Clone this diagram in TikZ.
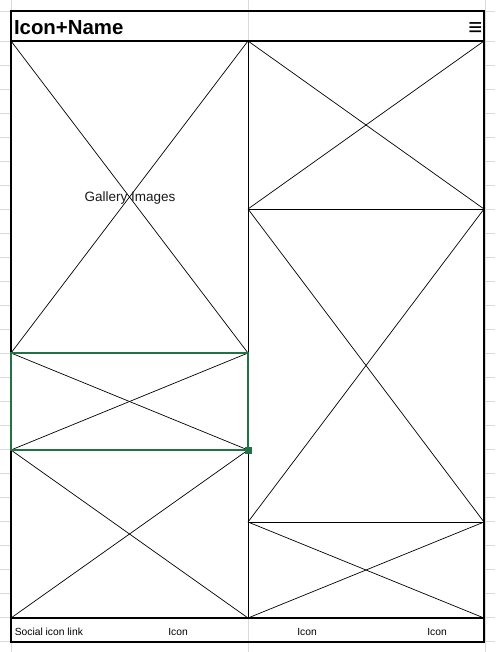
\documentclass[tikz,border=0pt]{standalone}
\usepackage{fontspec}
\setmainfont{Liberation Sans}
\definecolor{gridc}{HTML}{DADADA}
\definecolor{xlgreen}{HTML}{217346}
\definecolor{txt}{HTML}{1A1A1A}
\begin{document}
\begin{tikzpicture}[x=1pt,y=-1pt,
  gridline/.style={draw=gridc,line width=0.8pt},
  ph/.style={draw=black,fill=white,line width=0.7pt,inner sep=0pt,outer sep=0pt,anchor=north west},
  diag/.style={draw=black,line width=0.7pt},
  frame/.style={draw=black,line width=2.6pt},
  sepline/.style={draw=black,line width=1.4pt},
  sel/.style={draw=xlgreen,line width=2pt},
  foot/.style={font=\fontsize{10.3}{12}\selectfont,text=black,inner sep=0pt}
]
\useasboundingbox (0,0) rectangle (495,652);
\fill[white] (0,0) rectangle (495,652);
% spreadsheet gridlines
\foreach \y in {11,41,65,89,113,137,161,185,209,233,257,281,305,329,353,377,401,425,449,473,497,521,545,569,593,617,641}
  \draw[gridline] (0,\y) -- (495,\y);
\foreach \x in {11,248,485}
  \draw[gridline] (\x,0) -- (\x,652);
% image placeholders, left column
\node[ph,minimum width=237pt,minimum height=312pt] (L1) at (11,41) {};
\node[ph,minimum width=237pt,minimum height=97pt] (L2) at (11,353) {};
\node[ph,minimum width=237pt,minimum height=168pt] (L3) at (11,450) {};
% right column
\node[ph,minimum width=236pt,minimum height=168pt] (R1) at (248,41) {};
\node[ph,minimum width=236pt,minimum height=313pt] (R2) at (248,209) {};
\node[ph,minimum width=236pt,minimum height=96pt] (R3) at (248,522) {};
\foreach \n in {L1,L2,L3,R1,R2,R3}{
  \draw[diag] (\n.north west) -- (\n.south east);
  \draw[diag] (\n.north east) -- (\n.south west);
}
% outer frame, header and footer
\coordinate (ftl) at (11,11);
\coordinate (fbr) at (484,642);
\coordinate (hl) at (11,41);
\coordinate (hr) at (484,41);
\coordinate (fl) at (11,618);
\coordinate (fr) at (484,618);
\draw[sepline] (hl) -- (hr);
\draw[sepline] (fl) -- (fr);
\draw[frame] (ftl) rectangle (fbr);
% selection
\draw[sel] (L2.north west) rectangle (L2.south east);
\node[fill=xlgreen,minimum size=7pt,inner sep=0pt] (handle) at (L2.south east) {};
% texts
\node[anchor=base west,inner sep=0pt,font=\fontsize{20.4}{24}\selectfont\bfseries,text=black] (title) at (13.8,35) {Icon+Name};
\node[anchor=base east,inner sep=0pt,font=\fontsize{24}{28}\selectfont\bfseries,text=black] (menu) at (482.5,35.5) {≡};
\node[inner sep=0pt,font=\fontsize{13.5}{16}\selectfont,text=txt] (gal) at (130,198.5) {Gallery Images};
\node[foot,anchor=base west] (soc) at (14.6,635.5) {Social icon link};
\node[foot,anchor=base] (i1) at (178,635.5) {Icon};
\node[foot,anchor=base] (i2) at (307,635.5) {Icon};
\node[foot,anchor=base] (i3) at (437,635.5) {Icon};
\end{tikzpicture}
\end{document}
